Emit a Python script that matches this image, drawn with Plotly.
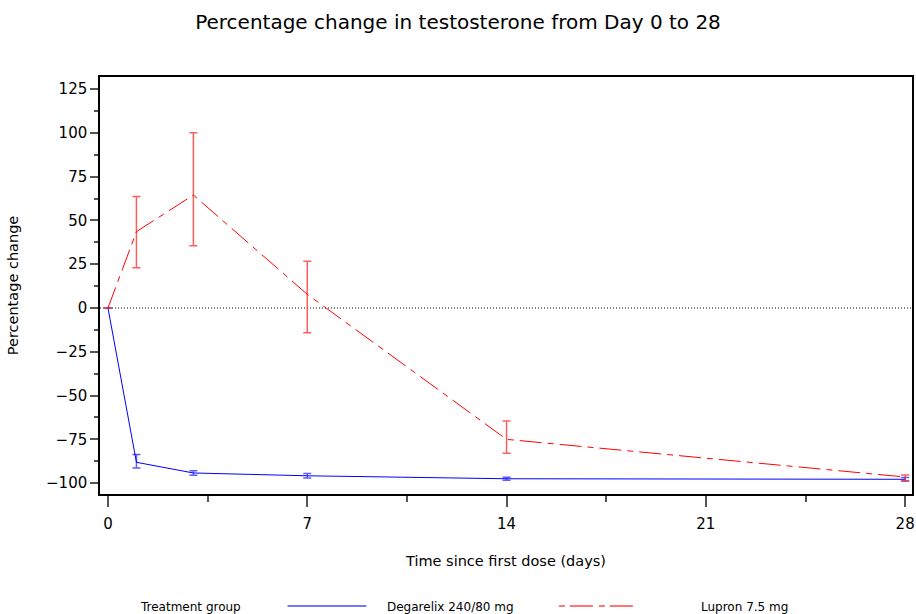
import plotly.graph_objects as go

# Study days at which testosterone was measured
days = [0, 1, 3, 7, 14, 28]

# Degarelix 240/80 mg: mean percentage change and error bar limits
degarelix_mean = [0, -88.1, -94.2, -95.8, -97.5, -97.8]
degarelix_upper = [0, -83.6, -92.9, -94.5, -96.6, -96.8]
degarelix_lower = [0, -91.4, -95.5, -97.1, -98.4, -98.8]

# Lupron 7.5 mg: mean percentage change and error bar limits
lupron_mean = [0, 43.6, 64.5, 7.8, -75.0, -96.5]
lupron_upper = [0, 63.6, 100.1, 26.7, -64.5, -95.4]
lupron_lower = [0, 23.0, 35.6, -14.1, -83.0, -98.8]

x_ticks = [0, 7, 14, 21, 28]
y_ticks = [-100, -75, -50, -25, 0, 25, 50, 75, 100, 125]

group_names = ["Degarelix 240/80 mg", "Lupron 7.5 mg"]

FONT = "DejaVu Sans"
BLUE = "#0000ff"
RED = "#ff0000"
LUPRON_DASH = "22px,6px,6px,6px"

# plot area in pixels (used to place the legend below the axes)
W, H = 916, 614
L, R, T, B = 100, 2, 77, 120
PW, PH = W - L - R, H - T - B


def px_x(px):
    return (px - L) / PW


def px_y(py):
    return (H - B - py) / PH


def err(mean, upper, lower):
    plus = [u - m for u, m in zip(upper, mean)]
    minus = [m - l for m, l in zip(mean, lower)]
    return plus, minus


fig = go.Figure()

d_plus, d_minus = err(degarelix_mean, degarelix_upper, degarelix_lower)
fig.add_trace(go.Scatter(
    x=days, y=degarelix_mean, mode="lines", name=group_names[0],
    line=dict(color=BLUE, width=1), showlegend=False,
    error_y=dict(type="data", symmetric=False, array=d_plus, arrayminus=d_minus,
                 color="rgba(40,40,255,0.75)", thickness=1.5, width=4),
))

l_plus, l_minus = err(lupron_mean, lupron_upper, lupron_lower)
fig.add_trace(go.Scatter(
    x=days, y=lupron_mean, mode="lines", name=group_names[1],
    line=dict(color=RED, width=1, dash=LUPRON_DASH), showlegend=False,
    error_y=dict(type="data", symmetric=False, array=l_plus, arrayminus=l_minus,
                 color="rgba(255,40,40,0.75)", thickness=1.5, width=4),
))

# dotted reference line at zero change
fig.add_hline(y=0, line=dict(color="black", width=1, dash="1px,2px"), layer="below")

# legend row under the x-axis title
leg_y = px_y(606)
fig.add_annotation(text="Treatment group", x=px_x(138), y=px_y(607),
                   xref="paper", yref="paper", xanchor="left", yanchor="middle",
                   showarrow=False, font=dict(size=12, family=FONT))
fig.add_shape(type="line", xref="paper", yref="paper",
              x0=px_x(288), x1=px_x(367), y0=leg_y, y1=leg_y,
              line=dict(color="rgba(60,60,255,0.7)", width=2))
fig.add_annotation(text=group_names[0], x=px_x(386), y=px_y(607),
                   xref="paper", yref="paper", xanchor="left", yanchor="middle",
                   showarrow=False, font=dict(size=12, family=FONT))
fig.add_shape(type="line", xref="paper", yref="paper",
              x0=px_x(560), x1=px_x(636), y0=leg_y, y1=leg_y,
              line=dict(color="rgba(255,60,60,0.7)", width=2, dash="6px,5px,23px,6px"))
fig.add_annotation(text=group_names[1], x=px_x(700), y=px_y(607),
                   xref="paper", yref="paper", xanchor="left", yanchor="middle",
                   showarrow=False, font=dict(size=12, family=FONT))

fig.update_layout(
    width=W, height=H,
    margin=dict(l=L, r=R, t=T, b=B),
    paper_bgcolor="white", plot_bgcolor="white",
    font=dict(family=FONT, color="black", size=15),
    title=dict(text="Percentage change in testosterone from Day 0 to 28",
               x=0.5, xref="container", xanchor="center",
               y=1 - 22 / H, yref="container", yanchor="middle",
               font=dict(size=20, family=FONT)),
    showlegend=False,
    xaxis=dict(
        range=[-0.28, 28.24], tickmode="array", tickvals=x_ticks,
        ticktext=[str(t) for t in x_ticks],
        ticks="outside", ticklen=11, tickwidth=1.5, tickcolor="#555",
        ticklabelstandoff=4,
        showline=True, linecolor="black", linewidth=1.5, mirror=True,
        showgrid=False, zeroline=False,
        minor=dict(tickvals=[3.5, 10.5, 17.5, 24.5], ticks="outside",
                   ticklen=6, tickwidth=1.5, tickcolor="#555"),
        title=dict(text="Time since first dose (days)", standoff=24,
                   font=dict(size=14.5)),
        tickfont=dict(size=15),
    ),
    yaxis=dict(
        range=[-106.2, 131.9], tickmode="array", tickvals=y_ticks,
        ticks="outside", ticklen=8, tickwidth=1.5, tickcolor="#555",
        showline=True, linecolor="black", linewidth=1.5, mirror=True,
        showgrid=False, zeroline=False,
        minor=dict(tickvals=[-87.5, -62.5, -37.5, -12.5, 12.5, 37.5, 62.5, 87.5, 112.5],
                   ticks="outside", ticklen=4, tickwidth=1.5, tickcolor="#555"),
        title=dict(text="Percentage change", standoff=24, font=dict(size=14.5)),
        tickfont=dict(size=15),
    ),
)

fig.write_html("out.html")
